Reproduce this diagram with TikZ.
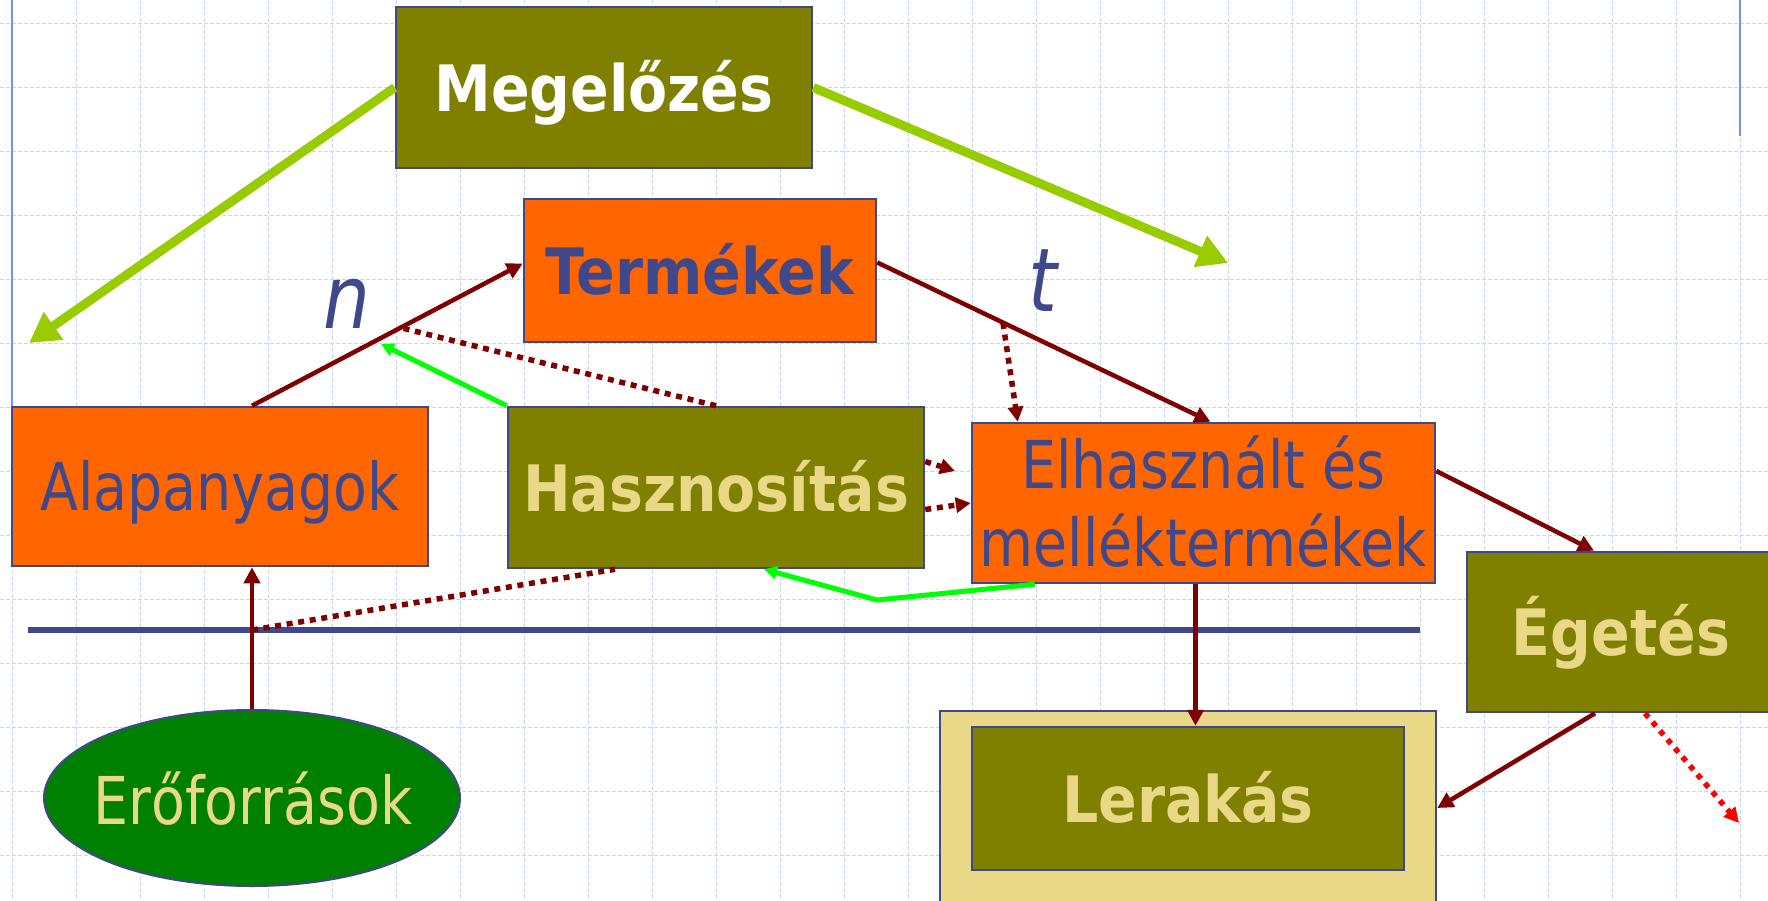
\documentclass[tikz,border=0pt]{standalone}
\usepackage{fontspec}
\newfontfamily\plainface[FakeStretch=0.84]{DejaVu Sans}
\newfontfamily\boldface[FakeStretch=0.89]{DejaVu Sans}
\usetikzlibrary{arrows.meta,shapes.geometric,calc}

\definecolor{olivefill}{HTML}{808000}
\definecolor{orangefill}{HTML}{FF6600}
\definecolor{inkblue}{HTML}{40488C}
\definecolor{sand}{HTML}{E8D888}
\definecolor{darkred}{HTML}{800000}
\definecolor{leafgreen}{HTML}{99CC00}
\definecolor{brightgreen}{HTML}{00FF00}
\definecolor{forest}{HTML}{008000}
\definecolor{gridblue}{HTML}{C8D6F6}
\definecolor{railblue}{HTML}{7890F0}

\tikzset{
  box/.style={draw=inkblue, line width=2.5pt, inner sep=0pt},
  olivebox/.style={box, fill=olivefill},
  orangebox/.style={box, fill=orangefill},
  plaintext/.style={font=\plainface\fontsize{66}{78}\selectfont, text=inkblue,
    text height=48pt, text depth=0pt},
  boldtext/.style={font=\boldface\bfseries\fontsize{64}{76}\selectfont,
    text height=47pt, text depth=0pt},
  slanttext/.style={font=\plainface\itshape\fontsize{88}{100}\selectfont,
    text=inkblue, inner sep=0pt, anchor=base},
  gridline/.style={draw=gridblue, line width=1pt, dash pattern=on 4pt off 2pt},
  rail/.style={draw=railblue, line width=2pt},
  sepline/.style={draw=inkblue, line width=5.5pt},
  flow/.style={draw=darkred, line width=4.5pt, -{Triangle[length=16pt,width=16pt]}},
  dotline/.style={draw=darkred, line width=5.5pt, dash pattern=on 6pt off 5.7pt},
  dotarrow/.style={dotline, -{Triangle[length=15pt,width=15pt]}},
  reddots/.style={draw=red, line width=5.5pt, dash pattern=on 5.5pt off 6pt,
    -{Triangle[length=15pt,width=15pt]}},
  bigarrow/.style={draw=leafgreen, line width=9pt, -{Triangle[length=30pt,width=32pt]}},
  limearrow/.style={draw=brightgreen, line width=5pt, -{Triangle[length=13pt,width=13pt]}},
}

\begin{document}
\begin{tikzpicture}[x=1pt, y=-1pt]
  % page frame and background
  \path[use as bounding box, clip] (0,0) rectangle (1768,900);
  \fill[white] (0,0) rectangle (1768,900);

  % dashed background grid
  \foreach \i in {0,...,27} \draw[gridline] ({12+64*\i},0) -- ({12+64*\i},900);
  \foreach \j in {0,...,13} \draw[gridline] (0,{23+64*\j}) -- (1768,{23+64*\j});

  % side rails
  \draw[rail] (12,0) -- (12,407);
  \draw[rail] (1740,0) -- (1740,136);

  % separator line
  \coordinate (sepL) at (28,630);
  \coordinate (sepR) at (1420,630);
  \draw[sepline] (sepL) -- (sepR);

  % boxes
  \node[olivebox, minimum width=416pt, minimum height=161pt, boldtext, text=white]
    (meg) at (604,87.5) {Megelőzés};
  \node[orangebox, minimum width=352pt, minimum height=143pt, boldtext, text=inkblue]
    (term) at (700,270.5) {Termékek};
  \node[orangebox, minimum width=416pt, minimum height=159pt, plaintext]
    (alap) at (220,486.5) {Alapanyagok};
  \node[olivebox, minimum width=416pt, minimum height=161pt, boldtext, text=sand]
    (hasz) at (716,487.5) {Hasznosítás};
  \node[orangebox, minimum width=463pt, minimum height=160pt, plaintext, align=center,
    text height=126pt] (elh) at (1203.5,503) {Elhasznált és\\melléktermékek};
  \node[olivebox, minimum width=308pt, minimum height=160pt, boldtext, text=sand]
    (eget) at (1621,632) {Égetés};
  \node[box, fill=sand, minimum width=496pt, minimum height=194pt]
    (lerbase) at (1188,808) {};
  \node[olivebox, minimum width=432pt, minimum height=143pt, boldtext, text=sand]
    (ler) at (1188,798.5) {Lerakás};
  \node[ellipse, draw=inkblue, line width=2pt, fill=forest, inner sep=0pt,
    minimum width=416pt, minimum height=176pt] (ero) at (252,798) {};
  \node[plaintext, text=sand, inner sep=0pt] (erotxt) at (253,800) {Erőforrások};

  % labels
  \node[slanttext] (nlab) at (347,328) {n};
  \node[slanttext] (tlab) at (1043,311) {t};

  % free ends
  \coordinate (tipA) at (29,343);
  \coordinate (tipB) at (1228,263);
  \coordinate (tipC) at (1739,823);
  \coordinate (tipD) at (381,344);
  \coordinate (tipE) at (955,471);
  \coordinate (nmeet) at (398,327);
  \coordinate (tmeet) at (1003,323);
  \coordinate (bend) at (877,600);
  \coordinate (junction) at (ero.north |- sepL);

  % prevention arrows
  \draw[bigarrow] (meg.west) -- (tipA);
  \draw[bigarrow] (meg.east) -- (tipB);

  % material flow
  \draw[flow] (ero.north) -- (ero.north |- alap.south);
  \draw[flow] (ero.north |- alap.north) -- ([yshift=7]term.west);
  \draw[flow] ([yshift=8]term.east) -- ([xshift=7]elh.north);
  \draw[flow] ([yshift=32]elh.east) -- ([xshift=-27]eget.north);
  \draw[flow] ([xshift=-8]elh.south) -- ([xshift=-8]elh.south |- ler.north);
  \draw[flow] ([xshift=-26]eget.south) -- (lerbase.east);
  \draw[reddots] ([xshift=24]eget.south) -- (tipC);

  % recovery links
  \draw[dotline] (junction) -- ([xshift=-101]hasz.south);
  \draw[dotline] (hasz.north) -- (nmeet);
  \draw[limearrow] (hasz.north west) -- (tipD);
  \draw[dotarrow] (tmeet) -- ([xshift=47]elh.north west);
  \draw[dotarrow] ([yshift=26]hasz.east) -- (tipE);
  \draw[dotarrow] ([yshift=-22]hasz.east) -- (elh.west);
  \draw[limearrow] ([xshift=64]elh.south west) -- (bend) -- ([xshift=48]hasz.south);
\end{tikzpicture}
\end{document}
